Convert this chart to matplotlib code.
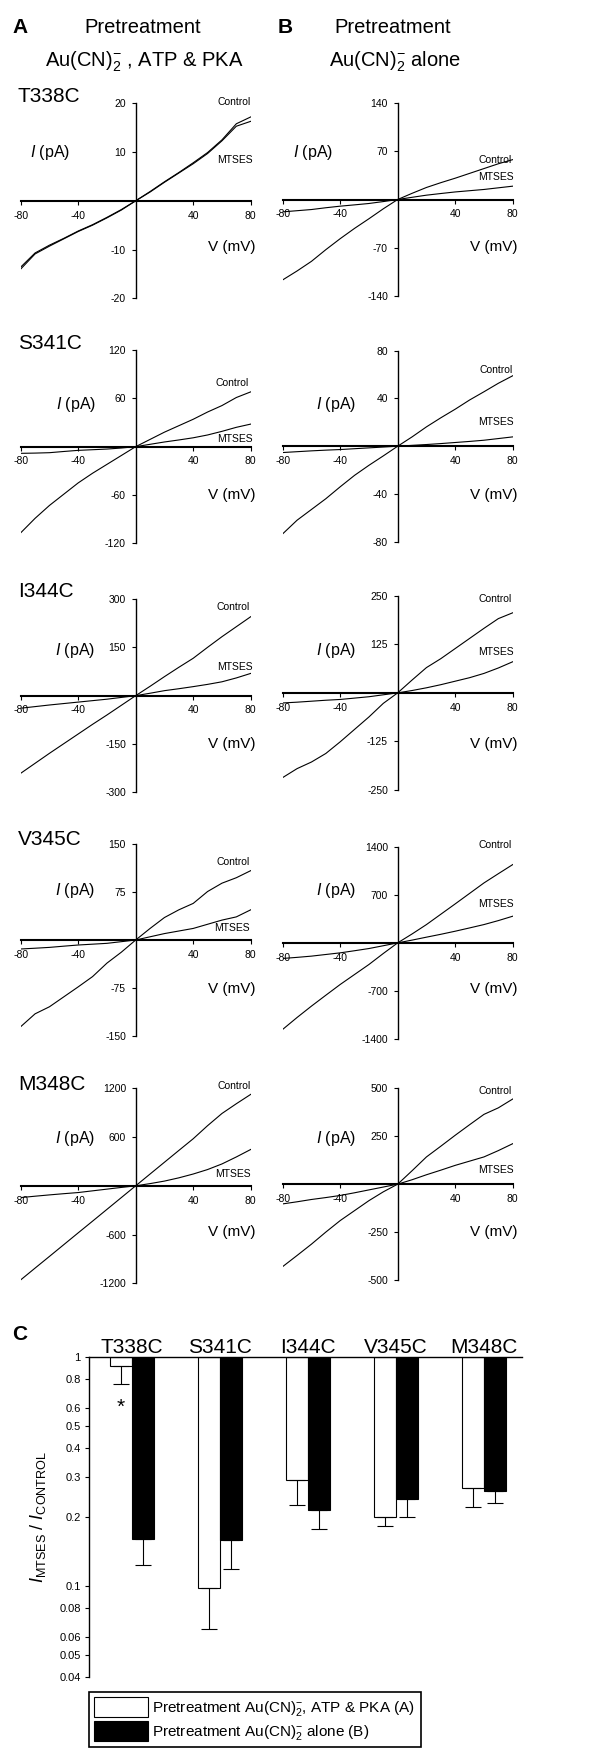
import matplotlib
matplotlib.use("Agg")
import matplotlib.pyplot as plt
import numpy as np

plt.rcParams['font.family'] = ['Liberation Sans', 'DejaVu Sans']
plt.rcParams['mathtext.fontset'] = 'custom'
plt.rcParams['mathtext.rm'] = 'Liberation Sans'
plt.rcParams['mathtext.it'] = 'Liberation Sans:italic'
plt.rcParams['mathtext.bf'] = 'Liberation Sans:bold'

# ---------------- data ----------------
voltage = [-80, -70, -60, -50, -40, -30, -20, -10, 0, 10, 20, 30, 40, 50, 60, 70, 80]
mutants = ['T338C', 'S341C', 'I344C', 'V345C', 'M348C']
ylims_A = [20, 120, 300, 150, 1200]
ylims_B = [140, 80, 250, 1400, 500]

T338C_A_control = [-14.0, -10.9, -9.3, -7.8, -6.3, -5.0, -3.5, -1.9, 0, 1.9, 3.9, 5.8, 7.8, 9.9, 12.5, 15.8, 17.2]
T338C_A_mtses = [-13.6, -10.7, -9.1, -7.7, -6.2, -4.9, -3.4, -1.8, 0, 1.8, 3.8, 5.7, 7.6, 9.7, 12.3, 15.3, 16.3]
T338C_B_control = [-117, -104, -90, -73, -57, -42, -28, -13.5, 0, 9, 17.5, 24.5, 31, 38, 45, 52, 58]
T338C_B_mtses = [-18, -16.3, -14.6, -12, -9.7, -7.8, -5.8, -3, 0, 3.2, 6.3, 8.7, 11, 12.8, 14.6, 17, 19.4]

S341C_A_control = [-107, -89, -73, -59, -45, -33, -22, -11, 0, 9, 18, 26, 34, 43, 51, 61, 68]
S341C_A_mtses = [-8.3, -8, -7.5, -6, -4.6, -3.8, -3, -1.7, 0, 2.9, 5.8, 8.3, 11, 14.5, 19, 24, 28]
S341C_B_control = [-73.4, -62, -53, -44, -34, -24.4, -16, -8.1, 0, 7.8, 16.2, 23.8, 31, 38.7, 45.6, 52.7, 59]
S341C_B_mtses = [-5.3, -4.6, -3.9, -3.3, -2.8, -2.1, -1.4, -0.7, 0, 0.7, 1.4, 2.2, 3.1, 4, 5, 6.4, 7.8]

I344C_A_control = [-241, -210, -179, -149, -119, -89, -60, -30, 0, 29, 59, 88, 116, 150, 183, 214, 245]
I344C_A_mtses = [-39, -34, -29, -24.5, -20, -15.5, -11, -5.5, 0, 7.5, 15.5, 21.5, 28, 35, 43, 55, 69]
I344C_B_control = [-218, -195, -178, -156, -126, -94, -62, -27, 0, 33, 65, 88, 114, 140, 166, 191, 206]
I344C_B_mtses = [-26, -24, -21.5, -19, -17, -13.5, -10, -5, 0, 6, 13, 21, 30, 39, 50, 64, 80]

V345C_A_control = [-135, -115, -104, -88.5, -73, -57, -36, -19, 0, 18, 35, 47, 57, 75.5, 88.5, 97, 108]
V345C_A_mtses = [-14, -12.8, -11.5, -9.6, -7.8, -6.5, -5.2, -2.6, 0, 5, 10, 14, 18, 24.5, 31, 36, 47]
V345C_B_control = [-1264, -1090, -924, -765, -608, -462, -316, -155, 0, 130, 267, 418, 569, 722, 875, 1010, 1143]
V345C_B_mtses = [-228, -212, -194, -170, -146, -115, -83, -42, 0, 40, 83, 125, 170, 218, 267, 325, 389]

M348C_A_control = [-1158, -1013, -869, -724, -579, -435, -290, -145, 0, 145, 290, 435, 579, 740, 890, 1010, 1125]
M348C_A_mtses = [-145, -128, -112, -97, -83, -62, -41, -20, 0, 27, 58, 98, 145, 200, 269, 355, 447]
M348C_B_control = [-430, -372, -313, -250, -190, -138, -86, -40, 0, 70, 142, 198, 255, 310, 364, 398, 444]
M348C_B_mtses = [-103, -92, -80, -70, -59, -45, -30, -15, 0, 23, 49, 73, 98, 120, 142, 175, 211]

ratio_A = [0.914, 0.098, 0.290, 0.200, 0.268]
sem_A = [0.152, 0.033, 0.064, 0.017, 0.047]
ratio_B = [0.160, 0.159, 0.215, 0.240, 0.260]
sem_B = [0.036, 0.040, 0.038, 0.040, 0.030]
bar_yticks = [1, 0.8, 0.6, 0.5, 0.4, 0.3, 0.2, 0.1, 0.08, 0.06, 0.05, 0.04]
bar_yticklabels = ['1', '0.8', '0.6', '0.5', '0.4', '0.3', '0.2', '0.1', '0.08', '0.06', '0.05', '0.04']

traces_A = [(T338C_A_control, T338C_A_mtses), (S341C_A_control, S341C_A_mtses),
            (I344C_A_control, I344C_A_mtses), (V345C_A_control, V345C_A_mtses),
            (M348C_A_control, M348C_A_mtses)]
traces_B = [(T338C_B_control, T338C_B_mtses), (S341C_B_control, S341C_B_mtses),
            (I344C_B_control, I344C_B_mtses), (V345C_B_control, V345C_B_mtses),
            (M348C_B_control, M348C_B_mtses)]

# ---------------- layout ----------------
W, H = 610, 1754
fig = plt.figure(figsize=(W / 100, H / 100), dpi=100)


def add_ax(left, top, right, bottom):
    return fig.add_axes([left / W, 1 - bottom / H, (right - left) / W, (bottom - top) / H])


def ftext(x, y, s, **kw):
    fig.text(x / W, 1 - y / H, s, **kw)


panel_A_box = [(103.3, 298.3), (350, 543.3), (599, 792.3), (843.7, 1036.3), (1088.3, 1283.3)]
panel_B_box = [(103.3, 295.7), (350.7, 541.7), (595.7, 790), (847, 1038.7), (1088.3, 1280)]
ctrl_lab_A = [(251, 102), (249, 383), (250, 607), (250, 862), (251, 1086)]
mts_lab_A = [(253, 160), (253, 439), (253, 667), (250, 928), (251, 1174)]
ctrl_lab_B = [(512, 160), (513, 370), (512, 599), (512, 845), (512, 1091)]
mts_lab_B = [(514, 177), (514, 422), (514, 652), (514, 904), (514, 1170)]
ipa_A = [(50, 152), (76, 405), (75, 650), (75, 891), (75, 1138)]
ipa_B = [(313, 152), (336, 405), (336, 650), (336, 891), (336, 1138)]
vmv_y = [247, 495, 744, 989, 1232]
title_base = [101.7, 349, 597, 845, 1090]


def iv_panel(left, right, box, ylim, ctrl, mts):
    ax = add_ax(left, box[0], right, box[1])
    ax.plot(voltage, ctrl, color='black', lw=0.8)
    ax.plot(voltage, mts, color='black', lw=0.8)
    ax.set_xlim(-80, 80)
    ax.set_ylim(-ylim, ylim)
    ax.spines['left'].set_position('zero')
    ax.spines['bottom'].set_position('zero')
    ax.spines['top'].set_visible(False)
    ax.spines['right'].set_visible(False)
    ax.spines['bottom'].set_linewidth(1.5)
    ax.spines['left'].set_linewidth(1.0)
    ax.set_xticks([-80, -40, 40, 80])
    ax.set_xticklabels(['-80', '-40', '40', '80'])
    yt = [-ylim, -ylim / 2, ylim / 2, ylim]
    ax.set_yticks(yt)
    ax.set_yticklabels([('%g' % v) for v in yt])
    ax.tick_params(axis='x', direction='out', length=3, width=0.8, pad=4, labelsize=7.5)
    ax.tick_params(axis='y', direction='out', length=3, width=0.8, pad=4, labelsize=7.5)
    ax.patch.set_alpha(0)
    return ax


for i in range(5):
    iv_panel(20.7, 250.7, panel_A_box[i], ylims_A[i], *traces_A[i])
    iv_panel(282.7, 512.7, panel_B_box[i], ylims_B[i], *traces_B[i])
    ftext(ctrl_lab_A[i][0], ctrl_lab_A[i][1], 'Control', ha='right', va='center', fontsize=7.5)
    ftext(mts_lab_A[i][0], mts_lab_A[i][1], 'MTSES', ha='right', va='center', fontsize=7.5)
    ftext(ctrl_lab_B[i][0], ctrl_lab_B[i][1], 'Control', ha='right', va='center', fontsize=7.5)
    ftext(mts_lab_B[i][0], mts_lab_B[i][1], 'MTSES', ha='right', va='center', fontsize=7.5)
    ftext(ipa_A[i][0], ipa_A[i][1], r'$\it{I}$ (pA)', ha='center', va='center', fontsize=11.5)
    ftext(ipa_B[i][0], ipa_B[i][1], r'$\it{I}$ (pA)', ha='center', va='center', fontsize=11.5)
    ftext(255, vmv_y[i], 'V (mV)', ha='right', va='center', fontsize=11)
    ftext(518, vmv_y[i], 'V (mV)', ha='right', va='center', fontsize=11)
    ftext(18, title_base[i], mutants[i], ha='left', va='baseline', fontsize=15)

# headers
ftext(12, 33.3, 'A', ha='left', va='baseline', fontsize=15, fontweight='bold')
ftext(278, 33.3, 'B', ha='left', va='baseline', fontsize=15, fontweight='bold')
ftext(142.5, 33.3, 'Pretreatment', ha='center', va='baseline', fontsize=14.5)
ftext(393, 33.3, 'Pretreatment', ha='center', va='baseline', fontsize=14.5)
ftext(144, 66.7, r'Au(CN)$_2^{-}$ , ATP & PKA', ha='center', va='baseline', fontsize=14.5)
ftext(395, 66.7, r'Au(CN)$_2^{-}$ alone', ha='center', va='baseline', fontsize=14.5)

# ---------------- bar chart C ----------------
axc = add_ax(89, 1357, 522, 1677)
x = np.arange(len(mutants))
bw = 0.25
ra = np.array(ratio_A)
rb = np.array(ratio_B)
axc.bar(x - bw / 2, ra - 1, bottom=1, width=bw, color='white', edgecolor='black', linewidth=0.8,
        label=r'Pretreatment Au(CN)$_2^{-}$, ATP & PKA (A)')
axc.bar(x + bw / 2, rb - 1, bottom=1, width=bw, color='black', edgecolor='black', linewidth=0.8,
        label=r'Pretreatment Au(CN)$_2^{-}$ alone (B)')
axc.errorbar(x - bw / 2, ra, yerr=[sem_A, [0] * 5], fmt='none', ecolor='black', elinewidth=0.8,
             capsize=5.5, capthick=0.8)
axc.errorbar(x + bw / 2, rb, yerr=[sem_B, [0] * 5], fmt='none', ecolor='black', elinewidth=0.8,
             capsize=5.5, capthick=0.8)
axc.set_yscale('log')
axc.set_ylim(0.04, 1)
axc.set_xlim(-0.49, 4.43)
axc.set_yticks(bar_yticks)
axc.set_yticklabels(bar_yticklabels)
axc.minorticks_off()
axc.set_xticks([])
axc.spines['right'].set_visible(False)
axc.spines['bottom'].set_visible(False)
axc.spines['top'].set_linewidth(1.0)
axc.spines['left'].set_linewidth(1.0)
axc.tick_params(axis='y', direction='out', length=3, width=0.8, pad=3, labelsize=8)
for i, m in enumerate(mutants):
    axc.text(i, 1.0134, m, transform=axc.get_xaxis_transform(), ha='center', va='baseline', fontsize=15)
axc.text(-bw / 2, 0.6, '*', ha='center', va='center', fontsize=15)
axc.set_ylabel(r'$\it{I}_{\mathrm{MTSES}}\ /\ \it{I}_{\mathrm{CONTROL}}$', fontsize=13, labelpad=8)
ftext(12, 1340, 'C', ha='left', va='baseline', fontsize=15, fontweight='bold')

leg = axc.legend(loc='upper left', bbox_to_anchor=(89 / W, 1 - 1692 / H), bbox_transform=fig.transFigure,
                 fontsize=11, frameon=True, fancybox=False, edgecolor='black', framealpha=1,
                 handlelength=3.5, handleheight=1.6, handletextpad=0.3, borderpad=0.35,
                 labelspacing=0.2, borderaxespad=0)
leg.get_frame().set_linewidth(1.2)
for p in leg.get_patches():
    p.set_edgecolor('black')

fig.savefig('out.png', dpi=100)
